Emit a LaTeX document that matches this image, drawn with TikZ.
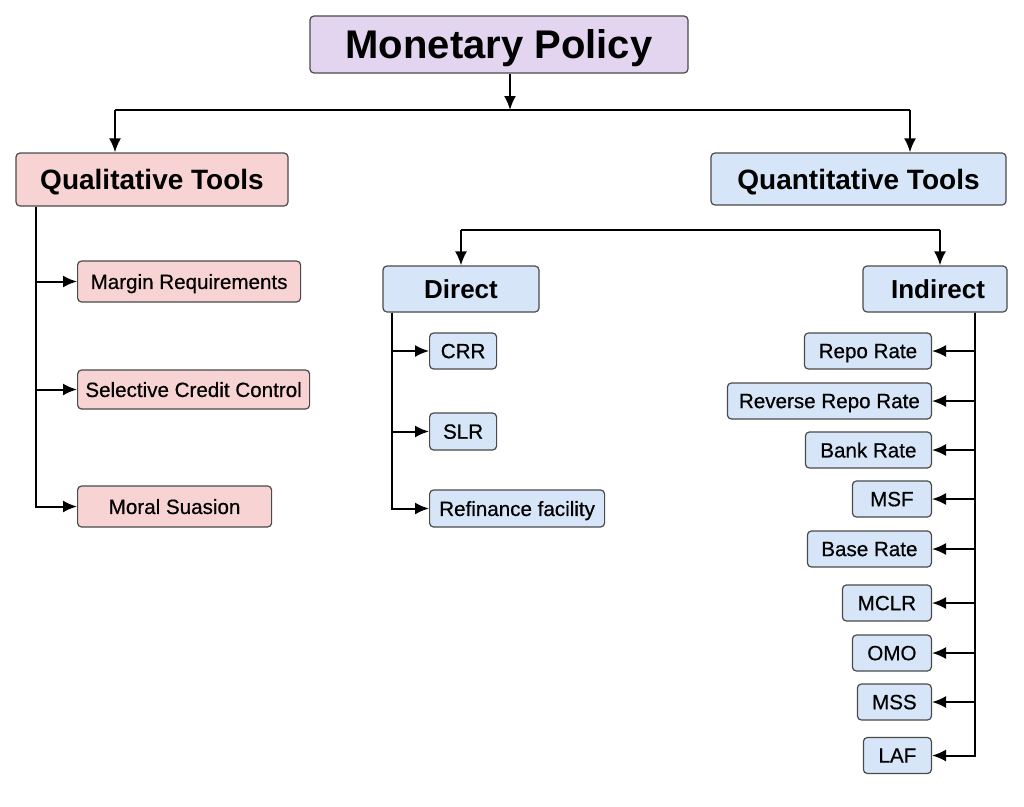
\documentclass[tikz,border=0pt]{standalone}
\usepackage{fontspec}
\setmainfont{Liberation Sans}
\newfontfamily\leaffam[FakeBold=0.5]{Liberation Sans}
\usetikzlibrary{arrows.meta}
\definecolor{mpfill}{HTML}{E3D4F0}
\definecolor{qlfill}{HTML}{F8D3D3}
\definecolor{qnfill}{HTML}{D6E6F8}
\definecolor{edgecol}{HTML}{4A4A4A}
\begin{document}
\begin{tikzpicture}[x=1pt,y=-1pt,
  box/.style={draw=edgecol, line width=1.2pt, rounded corners=4pt, inner sep=0pt, align=center, text depth=0pt},
  titlefont/.style={font=\bfseries\fontsize{40}{46}\selectfont},
  headfont/.style={font=\bfseries\fontsize{28}{32}\selectfont},
  subfont/.style={font=\bfseries\fontsize{26}{30}\selectfont},
  leaffont/.style={font=\leaffam\fontsize{20.6}{24}\selectfont},
  purplebox/.style={box, fill=mpfill},
  pinkbox/.style={box, fill=qlfill},
  bluebox/.style={box, fill=qnfill},
  conn/.style={line width=2pt, black},
  arr/.style={conn, -{Latex[length=14pt,width=12pt]}}
]
\useasboundingbox[fill=white] (0,0) rectangle (1024,806);

% top level
\node[purplebox, titlefont, minimum width=378pt, minimum height=57pt] (mp) at (499,44.5) {Monetary Policy};
\node[pinkbox, headfont, minimum width=272pt, minimum height=53pt] (qual) at (152,179.5) {Qualitative Tools};
\node[bluebox, headfont, minimum width=295pt, minimum height=52pt] (quant) at (858.5,179) {Quantitative Tools};

% qualitative leaves
\node[pinkbox, leaffont, minimum width=223pt, minimum height=41pt, anchor=west] (margin) at (77,281.5) {Margin Requirements};
\node[pinkbox, leaffont, minimum width=232pt, minimum height=39pt, anchor=west] (selective) at (77,389.5) {Selective Credit Control};
\node[pinkbox, leaffont, minimum width=194pt, minimum height=41pt, anchor=west] (moral) at (77,506.5) {Moral Suasion};

% direct / indirect
\node[bluebox, subfont, minimum width=156pt, minimum height=46pt] (direct) at (461,289) {Direct};
\node[bluebox, subfont, minimum width=144pt, minimum height=46pt] (indirect) at (935,289) {\hspace*{6pt}Indirect};

% direct leaves
\node[bluebox, leaffont, minimum width=67pt, minimum height=36pt, anchor=west] (crr) at (429,351) {CRR};
\node[bluebox, leaffont, minimum width=67pt, minimum height=37pt, anchor=west] (slr) at (429,431.5) {SLR};
\node[bluebox, leaffont, minimum width=175pt, minimum height=37pt, anchor=west] (refin) at (429,508.5) {Refinance facility};

% indirect leaves
\node[bluebox, leaffont, minimum width=127pt, minimum height=36pt, anchor=east] (repo) at (932,351) {Repo Rate};
\node[bluebox, leaffont, minimum width=204pt, minimum height=36pt, anchor=east] (revrepo) at (932,401) {Reverse Repo Rate};
\node[bluebox, leaffont, minimum width=126pt, minimum height=36pt, anchor=east] (bank) at (932,450) {Bank Rate};
\node[bluebox, leaffont, minimum width=79pt, minimum height=36pt, anchor=east] (msf) at (932,499) {MSF};
\node[bluebox, leaffont, minimum width=124pt, minimum height=36pt, anchor=east] (base) at (932,549) {Base Rate};
\node[bluebox, leaffont, minimum width=89pt, minimum height=36pt, anchor=east] (mclr) at (932,603) {MCLR};
\node[bluebox, leaffont, minimum width=79pt, minimum height=36pt, anchor=east] (omo) at (932,653) {OMO};
\node[bluebox, leaffont, minimum width=74pt, minimum height=36pt, anchor=east] (mss) at (932,702) {MSS};
\node[bluebox, leaffont, minimum width=68pt, minimum height=36pt, anchor=east] (laf) at (932,755.5) {LAF};

% top connectors
\coordinate (hub) at (510,110);
\coordinate (hubl) at (115,110);
\coordinate (hubr) at (910,110);
\draw[arr] (mp.south -| hub) -- (hub);
\draw[conn] (hubl) -- (hubr);
\draw[arr] (hubl) -- (hubl |- qual.north);
\draw[arr] (hubr) -- (hubr |- quant.north);

% qualitative trunk
\coordinate (qt) at (36,0);
\draw[arr] (qual.south -| qt) |- (margin.west);
\draw[arr] (qual.south -| qt) |- (selective.west);
\draw[arr] (qual.south -| qt) |- (moral.west);

% direct / indirect bracket
\coordinate (dl) at (461,230);
\coordinate (dr) at (940,230);
\draw[conn] (dl) -- (dr);
\draw[arr] (dl) -- (dl |- direct.north);
\draw[arr] (dr) -- (dr |- indirect.north);

% direct trunk
\coordinate (dt) at (392,0);
\draw[arr] (direct.south -| dt) |- (crr.west);
\draw[arr] (direct.south -| dt) |- (slr.west);
\draw[arr] (direct.south -| dt) |- (refin.west);

% indirect trunk
\coordinate (it) at (975,0);
\foreach \n in {repo,revrepo,bank,msf,base,mclr,omo,mss,laf}{
  \draw[arr] (indirect.south -| it) |- (\n.east);
}
\end{tikzpicture}
\end{document}
